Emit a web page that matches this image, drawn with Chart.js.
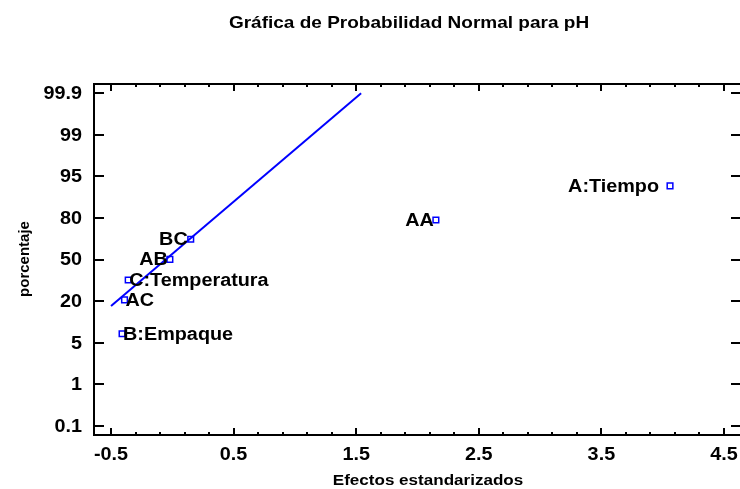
<!DOCTYPE html>
<html>
<head>
<meta charset="utf-8">
<script src="https://cdn.jsdelivr.net/npm/chart.js@4.4.1/dist/chart.umd.min.js"></script>
<style>
html, body { margin: 0; padding: 0; overflow: hidden; background: #fff; }
#wrap { width: 742px; height: 489px; }
</style>
</head>
<body>
<div id="wrap"><canvas id="c" width="742" height="489"></canvas></div>
<script>
// ---- data ----
const titleText = 'Gráfica de Probabilidad Normal para pH';
const xTitle = 'Efectos estandarizados';
const yTitle = 'porcentaje';

const effectNames = ['A:Tiempo', 'B:Empaque', 'C:Temperatura', 'AA', 'AB', 'AC', 'BC'];
const effectValues = [4.06, -0.41, -0.36, 2.15, -0.02, -0.39, 0.15];
const effectPercents = [91.6, 8.2, 35.2, 78.5, 50.1, 20.8, 64.6];

const fitLineX = [-0.5, 1.54];
const fitLinePercent = [18.2, 99.9];

const yTickValues = [0.1, 1, 5, 20, 50, 80, 95, 99, 99.9];
const yTickLabels = ['0.1', '1', '5', '20', '50', '80', '95', '99', '99.9'];
const xTickValues = [-0.5, 0.5, 1.5, 2.5, 3.5, 4.5];
const xTickLabels = ['-0.5', '0.5', '1.5', '2.5', '3.5', '4.5'];

// ---- label placement (style) ----
const labelPlacement = [
  { align: 'right', dx: -11 },
  { align: 'left', dx: 1 },
  { align: 'left', dx: 1 },
  { align: 'right', dx: -2 },
  { align: 'right', dx: -2 },
  { align: 'left', dx: 1 },
  { align: 'right', dx: -3 }
];

// probability axis: evenly spaced labelled percentages
function pctToPos(p) {
  const v = yTickValues;
  for (let i = 0; i < v.length - 1; i++) {
    if (p <= v[i + 1]) return i + (p - v[i]) / (v[i + 1] - v[i]);
  }
  return v.length - 1;
}

const pointData = effectValues.map((x, i) => ({ x: x, y: pctToPos(effectPercents[i]) }));
const lineData = fitLineX.map((x, i) => ({ x: x, y: pctToPos(fitLinePercent[i]) }));

const FONT = '"Liberation Sans", Arial, Helvetica, sans-serif';
const SX = 1.1; // horizontal text stretch seen in the reference

function drawText(ctx, text, x, y, align, size, sx) {
  ctx.save();
  ctx.font = 'bold ' + size + 'px ' + FONT;
  ctx.textAlign = align;
  ctx.textBaseline = 'middle';
  ctx.translate(x, y);
  ctx.scale(sx, 1);
  ctx.fillText(text, 0, 0);
  ctx.restore();
}

const framePlugin = {
  id: 'frame',
  afterDraw(chart) {
    const ctx = chart.ctx;
    const a = chart.chartArea;
    const xs = chart.scales.x, ys = chart.scales.y;
    ctx.save();
    ctx.strokeStyle = '#000';
    ctx.fillStyle = '#000';
    ctx.lineWidth = 2;
    ctx.strokeRect(a.left, a.top, a.right - a.left, a.bottom - a.top);

    // x ticks (minor every 0.2, major every 1)
    ctx.beginPath();
    for (let k = 0; k <= 25; k++) {
      const v = -0.5 + k * 0.2;
      const px = Math.round(xs.getPixelForValue(v));
      const major = k % 5 === 0;
      const len = major ? 7 : 3;
      ctx.moveTo(px, a.bottom); ctx.lineTo(px, a.bottom - len);
      ctx.moveTo(px, a.top); ctx.lineTo(px, a.top + len);
    }
    // y ticks
    yTickValues.forEach(v => {
      const py = Math.round(ys.getPixelForValue(pctToPos(v)));
      ctx.moveTo(a.left, py); ctx.lineTo(a.left + 10, py);
      ctx.moveTo(a.right, py); ctx.lineTo(a.right - 10, py);
    });
    ctx.stroke();

    // tick labels
    yTickValues.forEach((v, i) => {
      const py = ys.getPixelForValue(pctToPos(v));
      drawText(ctx, yTickLabels[i], 82, py + 1, 'right', 18, SX);
    });
    xTickValues.forEach((v, i) => {
      const px = xs.getPixelForValue(v);
      drawText(ctx, xTickLabels[i], px, 455, 'center', 18, SX);
    });

    // point labels
    effectNames.forEach((name, i) => {
      const px = xs.getPixelForValue(effectValues[i]);
      const py = ys.getPixelForValue(pctToPos(effectPercents[i]));
      const pl = labelPlacement[i];
      drawText(ctx, name, px + pl.dx, py + 1, pl.align, 18, SX);
    });

    // axis titles
    drawText(ctx, xTitle, 428, 481, 'center', 15.5, SX);
    ctx.save();
    ctx.translate(25, 259);
    ctx.rotate(-Math.PI / 2);
    drawText(ctx, yTitle, 0, 0, 'center', 15, 1);
    ctx.restore();

    // chart title
    drawText(ctx, titleText, 409, 23, 'center', 17.3, SX);
    ctx.restore();
  }
};

new Chart(document.getElementById('c'), {
  type: 'scatter',
  data: {
    datasets: [
      {
        type: 'line',
        label: 'fit',
        data: lineData,
        borderColor: '#0000ff',
        borderWidth: 2,
        pointRadius: 0,
        fill: false,
        showLine: true
      },
      {
        label: 'effects',
        data: pointData,
        pointStyle: 'rect',
        pointRadius: 4,
        borderColor: '#0000ff',
        backgroundColor: '#ffffff',
        borderWidth: 1.5
      }
    ]
  },
  options: {
    responsive: false,
    animation: false,
    events: [],
    layout: { autoPadding: false, padding: { left: 94, top: 84, right: 1, bottom: 54 } },
    plugins: { legend: { display: false }, tooltip: { enabled: false }, title: { display: false } },
    scales: {
      x: { type: 'linear', display: false, min: -0.639, max: 4.639 },
      y: { type: 'linear', display: false, min: -0.224, max: 8.224 }
    }
  },
  plugins: [framePlugin]
});
</script>
</body>
</html>
